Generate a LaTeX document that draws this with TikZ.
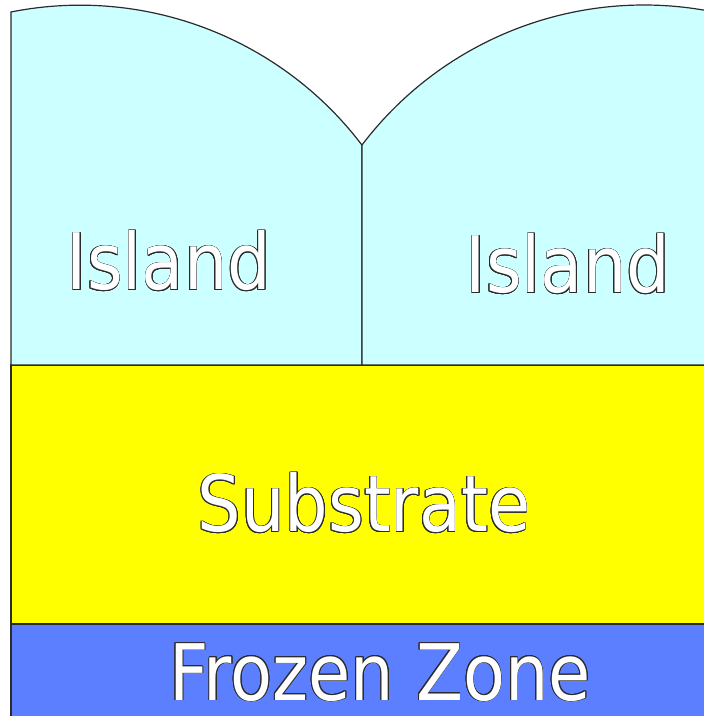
\documentclass[tikz,border=0pt]{standalone}
\usepackage{fontspec}
\setmainfont{DejaVu Sans}
\usepackage[copies]{contour}
\contourlength{0.45pt}
\definecolor{Ink}{HTML}{2B2B2B}
\definecolor{Ice}{HTML}{CCFFFF}
\definecolor{Sub}{HTML}{FFFF00}
\definecolor{Froz}{HTML}{5B7FFF}
\newcommand{\outlined}[1]{\scalebox{0.88}[1]{\contour{Ink}{\textcolor{white}{#1}}}}

\begin{document}
\begin{tikzpicture}[x=0.5pt,y=0.5pt,font=\fontsize{39}{39}\selectfont,layer/.style={draw=Ink,line width=0.6pt},lbl/.style={anchor=base,inner sep=0pt}]
 \useasboundingbox (0,0) rectangle (704,716);
 \clip (0,0) rectangle (704,716);
 % layers
 \fill[Froz] (11,-10) rectangle (720,92);
 \draw[layer,fill=Sub] (11,92) rectangle (720,351);
 \draw[layer] (11,-10) -- (11,92);
 % islands
 \coordinate (tl) at (11,704);
 \coordinate (mid) at (362,571);
 \draw[layer,fill=Ice] (11,351) -- (tl) arc[start angle=101.25,end angle=37.2,radius=177pt] -- (362,351) -- cycle;
 \draw[layer,fill=Ice] (362,351) -- (mid) arc[start angle=142.8,end angle=78.75,radius=177pt] -- (713,351) -- cycle;
 % labels
 \node[lbl] (isl1) at (169,426) {\outlined{Island}};
 \node[lbl] (isl2) at (568,423) {\outlined{Island}};
 \node[lbl] (subst) at (364,184) {\outlined{Substrate}};
 \node[lbl] (frozen) at (380,16) {\outlined{Frozen Zone}};
\end{tikzpicture}
\end{document}
